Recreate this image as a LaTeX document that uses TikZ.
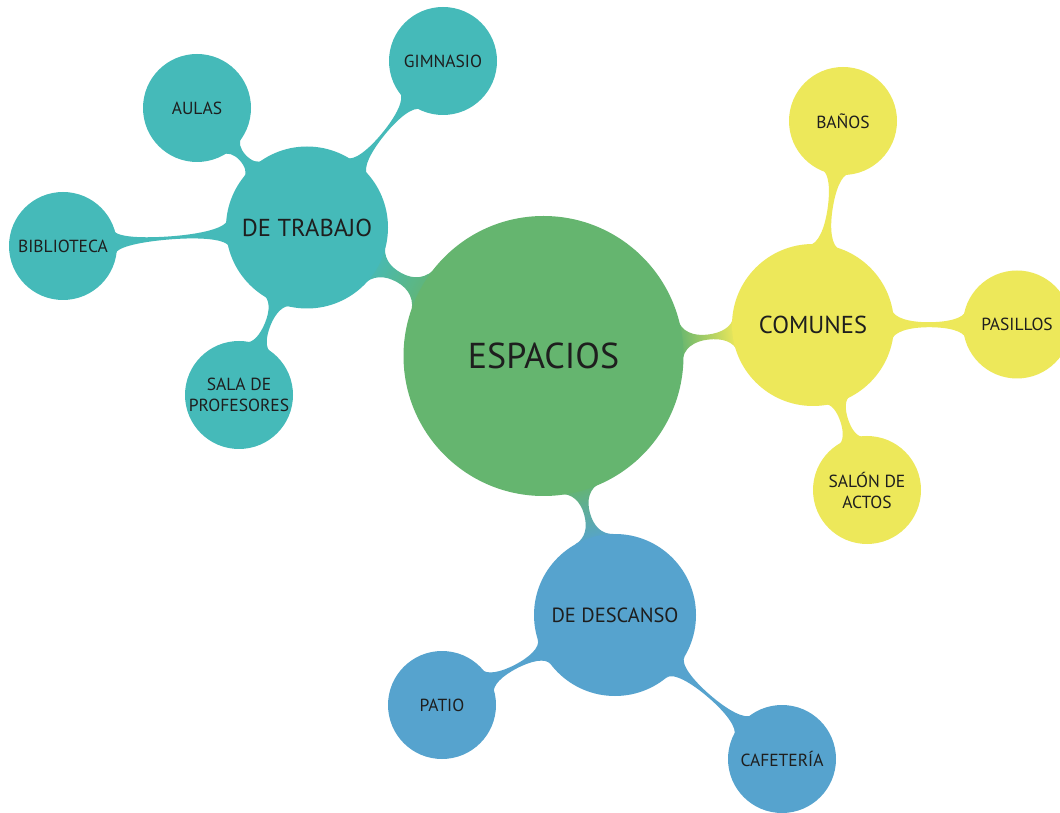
\documentclass[tikz,border=0pt]{standalone}
\usepackage{fontspec}
\setmainfont{PT Sans}
\usetikzlibrary{calc}
\definecolor{cgreen}{HTML}{65B56F}
\definecolor{cteal}{HTML}{45BAB9}
\definecolor{cyellow}{HTML}{EDE85A}
\definecolor{cblue}{HTML}{56A3CE}
\definecolor{ctext}{HTML}{1E1E1E}
\pgfdeclarelayer{bg}
\pgfsetlayers{bg,main}
\newcommand\brpt[3]{%
  \pgfmathsetmacro\brX{\brAx+(#2)*\brux-(#3)*\bruy}%
  \pgfmathsetmacro\brY{\brAy+(#2)*\bruy+(#3)*\brux}%
  \coordinate (#1) at (\brX pt,\brY pt);}
% #1 from node, #2 to node, #3 rA, #4 rB, #5 flare A, #6 flare B, #7 neck width, #8 bend, #9 fill options
\newcommand\branch[9]{%
  \path (#1.center); \pgfgetlastxy{\brAx}{\brAy}%
  \path (#2.center); \pgfgetlastxy{\brBx}{\brBy}%
  \pgfmathsetmacro\brdx{\brBx-\brAx}%
  \pgfmathsetmacro\brdy{\brBy-\brAy}%
  \pgfmathsetmacro\brd{veclen(\brdx,\brdy)}%
  \pgfmathsetmacro\brux{\brdx/\brd}%
  \pgfmathsetmacro\bruy{\brdy/\brd}%
  \pgfmathsetmacro\brsang{atan2(\brdy,\brdx)+90}%
  \pgfmathsetmacro\brqA{#3*sqrt(1-(#5/#3)*(#5/#3))}%
  \pgfmathsetmacro\brqB{#4*sqrt(1-(#6/#4)*(#6/#4))}%
  \pgfmathsetmacro\brsA{\brqA-1}%
  \pgfmathsetmacro\brsB{\brd-\brqB+1}%
  \pgfmathsetmacro\brG{\brsB-\brsA}%
  \pgfmathsetmacro\brM{(\brsA+\brsB)/2}%
  \pgfmathsetmacro\brw{#7/2}%
  \pgfmathsetmacro\brfA{0.7*(#5-\brw)}%
  \pgfmathsetmacro\brfB{0.7*(#6-\brw)}%
  \brpt{Ap}{\brsA}{#5}%
  \brpt{Am}{\brsA}{-#5}%
  \brpt{C1p}{\brsA+\brfA*#5/\brqA}{#5-\brfA}%
  \brpt{C1m}{\brsA+\brfA*#5/\brqA}{-#5+\brfA}%
  \brpt{C2p}{\brsA+0.25*\brG}{\brw+(#8)}%
  \brpt{C2m}{\brsA+0.25*\brG}{-\brw+(#8)}%
  \brpt{Mp}{\brM}{\brw+(#8)}%
  \brpt{Mm}{\brM}{-\brw+(#8)}%
  \brpt{C3p}{\brsB-0.25*\brG}{\brw+(#8)}%
  \brpt{C3m}{\brsB-0.25*\brG}{-\brw+(#8)}%
  \brpt{C4p}{\brsB-\brfB*#6/\brqB}{#6-\brfB}%
  \brpt{C4m}{\brsB-\brfB*#6/\brqB}{-#6+\brfB}%
  \brpt{Bp}{\brsB}{#6}%
  \brpt{Bm}{\brsB}{-#6}%
  \path[#9] (Ap) .. controls (C1p) and (C2p) .. (Mp)
    .. controls (C3p) and (C4p) .. (Bp) -- (Bm)
    .. controls (C4m) and (C3m) .. (Mm) .. controls (C2m) and (C1m) .. (Am) -- cycle;
}
\tikzset{
  bubble/.style={circle, inner sep=-12pt, align=center, text=ctext},
  rootbub/.style={bubble, minimum size=280pt, fill=cgreen, font=\fontsize{36}{40}\selectfont},
  midbub/.style={bubble, minimum size=162pt, font=\fontsize{24.5}{28}\selectfont},
  leafbub/.style={bubble, minimum size=108pt, font=\fontsize{17.5}{21}\selectfont},
  gradlink/.style={top color=cgreen, bottom color=#1, shading angle=\brsang},
}
\begin{document}
\begin{tikzpicture}[x=1pt,y=1pt]
\useasboundingbox (0,0) rectangle (1060,812);
% root
\node[rootbub] (esp) at (543.5,456) {ESPACIOS};
% de trabajo
\node[midbub, fill=cteal] (trab) at (307,584.5) {DE TRABAJO};
\node[leafbub, fill=cteal] (aulas) at (197,704) {AULAS};
\node[leafbub, fill=cteal] (gim) at (443,751) {GIMNASIO};
\node[leafbub, fill=cteal] (bib) at (63,566) {BIBLIOTECA};
\node[leafbub, fill=cteal] (sala) at (239,417) {SALA DE\\PROFESORES};
% comunes
\node[midbub, fill=cyellow] (com) at (813,487) {COMUNES};
\node[leafbub, fill=cyellow] (banos) at (843,691) {BAÑOS};
\node[leafbub, fill=cyellow] (pas) at (1017,487.5) {PASILLOS};
\node[leafbub, fill=cyellow] (salon) at (867,322) {SALÓN DE\\ACTOS};
% de descanso
\node[midbub, fill=cblue, font=\fontsize{20.5}{24}\selectfont] (desc) at (615,197) {DE DESCANSO};
\node[leafbub, fill=cblue] (patio) at (442,107) {PATIO};
\node[leafbub, fill=cblue] (cafe) at (782,53) {CAFETERÍA};
\begin{pgfonlayer}{bg}
\fill[white] (0,0) rectangle (1060,812);
\branch{esp}{trab}{140}{81}{28}{24}{10}{0}{gradlink=cteal}
\branch{esp}{com}{140}{81}{22}{18}{5}{0}{gradlink=cyellow}
\branch{esp}{desc}{140}{82}{22}{20}{6}{0}{gradlink=cblue}
\branch{trab}{aulas}{81}{54}{14}{14}{8}{0}{fill=cteal}
\branch{trab}{gim}{81}{54}{14}{14}{3}{0}{fill=cteal}
\branch{trab}{bib}{81}{54}{14}{12}{3}{0}{fill=cteal}
\branch{trab}{sala}{81}{54}{16}{14}{6}{0}{fill=cteal}
\branch{com}{banos}{81}{54}{16}{14}{5}{0}{fill=cyellow}
\branch{com}{pas}{81}{54}{16}{14}{5}{0}{fill=cyellow}
\branch{com}{salon}{81}{54}{14}{14}{8}{0}{fill=cyellow}
\branch{desc}{patio}{82}{54}{14}{14}{4}{0}{fill=cblue}
\branch{desc}{cafe}{82}{54}{14}{14}{3}{0}{fill=cblue}
\end{pgfonlayer}
\end{tikzpicture}
\end{document}
